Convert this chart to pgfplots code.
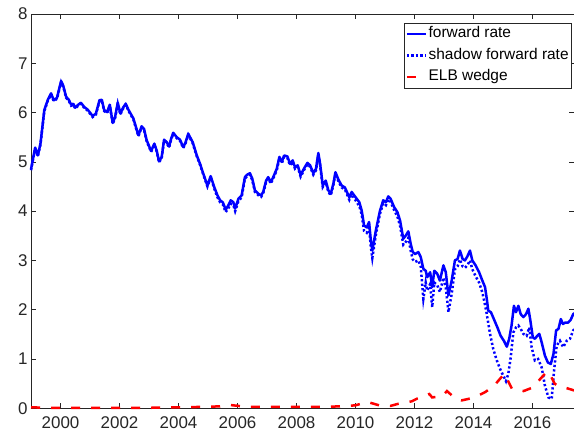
\documentclass[border=0pt]{standalone}
\usepackage{fontspec}
\setmainfont{Liberation Sans}
\usepackage{pgfplots}
\usepackage{pgfplotstable}
\pgfplotsset{compat=1.18}
\definecolor{axgray}{RGB}{38,38,38}
\definecolor{mblue}{RGB}{0,0,255}
\definecolor{mred}{RGB}{255,0,0}

\pgfplotstableread{
x y
1999.00 4.85
1999.14 5.29
1999.23 5.13
1999.32 5.37
1999.45 6.05
1999.57 6.26
1999.68 6.39
1999.77 6.25
1999.88 6.30
2000.02 6.64
2000.09 6.55
2000.19 6.32
2000.28 6.26
2000.36 6.16
2000.43 6.18
2000.50 6.10
2000.58 6.15
2000.69 6.20
2000.81 6.11
2000.92 6.06
2001.09 5.93
2001.20 5.98
2001.32 6.25
2001.40 6.26
2001.48 6.05
2001.58 6.01
2001.67 6.16
2001.77 5.79
2001.85 5.91
2001.94 6.20
2002.03 5.98
2002.12 6.10
2002.21 6.18
2002.30 6.06
2002.47 5.88
2002.64 5.54
2002.75 5.72
2002.83 5.67
2002.92 5.44
2003.07 5.22
2003.18 5.37
2003.26 5.23
2003.34 5.01
2003.43 5.10
2003.51 5.45
2003.60 5.40
2003.68 5.31
2003.75 5.47
2003.82 5.59
2003.94 5.50
2004.05 5.45
2004.16 5.30
2004.23 5.38
2004.33 5.57
2004.48 5.40
2004.62 5.13
2004.73 4.96
2004.84 4.76
2004.98 4.52
2005.09 4.71
2005.21 4.49
2005.32 4.32
2005.41 4.22
2005.50 4.18
2005.60 4.03
2005.69 4.12
2005.77 4.22
2005.86 4.18
2005.92 4.05
2006.03 4.25
2006.14 4.32
2006.25 4.69
2006.33 4.74
2006.42 4.77
2006.50 4.66
2006.59 4.42
2006.71 4.35
2006.80 4.32
2006.87 4.39
2006.97 4.62
2007.04 4.69
2007.13 4.59
2007.21 4.69
2007.33 4.86
2007.42 5.10
2007.50 5.00
2007.58 5.13
2007.69 5.11
2007.78 4.96
2007.87 5.03
2007.95 4.89
2008.04 4.93
2008.14 4.73
2008.25 4.86
2008.37 4.98
2008.46 4.93
2008.57 4.77
2008.66 4.86
2008.74 5.18
2008.80 4.96
2008.89 4.52
2008.99 4.62
2009.08 4.42
2009.16 4.35
2009.25 4.56
2009.32 4.79
2009.42 4.64
2009.53 4.52
2009.64 4.48
2009.79 4.28
2009.87 4.39
2009.98 4.30
2010.13 4.18
2010.21 4.01
2010.29 3.71
2010.38 3.67
2010.46 3.78
2010.52 3.40
2010.57 3.20
2010.69 3.61
2010.83 4.01
2010.94 4.22
2011.03 4.18
2011.11 4.30
2011.19 4.25
2011.31 4.08
2011.42 3.98
2011.51 3.81
2011.62 3.44
2011.71 3.51
2011.79 3.59
2011.87 3.34
2011.94 3.17
2012.02 3.13
2012.13 3.17
2012.21 3.07
2012.30 2.83
2012.38 2.79
2012.43 2.66
2012.53 2.76
2012.60 2.46
2012.67 2.79
2012.77 2.73
2012.86 2.59
2012.98 2.90
2013.06 2.76
2013.15 2.29
2013.26 2.59
2013.37 3.00
2013.46 3.03
2013.54 3.20
2013.63 3.03
2013.71 3.00
2013.79 3.08
2013.88 3.20
2013.96 3.00
2014.07 2.90
2014.19 2.76
2014.30 2.59
2014.39 2.46
2014.45 2.22
2014.50 1.98
2014.59 1.95
2014.69 1.81
2014.81 1.64
2014.92 1.47
2015.03 1.37
2015.13 1.25
2015.21 1.41
2015.29 1.68
2015.37 2.08
2015.44 1.95
2015.52 2.08
2015.60 1.91
2015.69 1.85
2015.78 1.91
2015.86 2.02
2015.92 1.81
2016.01 1.44
2016.08 1.41
2016.16 1.47
2016.23 1.51
2016.31 1.34
2016.42 1.07
2016.52 0.93
2016.62 0.90
2016.71 1.10
2016.80 1.58
2016.88 1.61
2016.96 1.81
2017.03 1.71
2017.11 1.74
2017.21 1.74
2017.29 1.79
2017.38 1.91
2017.42 1.93
}\forwardtbl

\pgfplotstableread{
x y
1999.00 4.83
1999.14 5.27
1999.23 5.11
1999.32 5.35
1999.45 6.03
1999.57 6.24
1999.68 6.37
1999.77 6.23
1999.88 6.28
2000.02 6.62
2000.09 6.53
2000.19 6.30
2000.28 6.24
2000.36 6.14
2000.43 6.16
2000.50 6.08
2000.58 6.13
2000.69 6.18
2000.81 6.09
2000.92 6.04
2001.09 5.91
2001.20 5.96
2001.32 6.23
2001.40 6.24
2001.48 6.03
2001.58 5.99
2001.67 6.14
2001.77 5.77
2001.85 5.89
2001.94 6.18
2002.03 5.96
2002.12 6.08
2002.21 6.16
2002.30 6.04
2002.47 5.86
2002.64 5.52
2002.75 5.70
2002.83 5.65
2002.92 5.42
2003.07 5.20
2003.18 5.35
2003.26 5.21
2003.34 4.99
2003.43 5.08
2003.51 5.43
2003.60 5.38
2003.68 5.29
2003.75 5.45
2003.82 5.57
2003.94 5.48
2004.05 5.43
2004.16 5.28
2004.23 5.36
2004.33 5.55
2004.48 5.38
2004.62 5.11
2004.73 4.94
2004.84 4.74
2004.98 4.50
2005.09 4.68
2005.21 4.46
2005.32 4.28
2005.41 4.18
2005.50 4.14
2005.60 3.98
2005.69 4.06
2005.77 4.15
2005.86 4.12
2005.92 4.00
2006.03 4.20
2006.14 4.28
2006.25 4.66
2006.33 4.71
2006.42 4.74
2006.50 4.63
2006.59 4.39
2006.71 4.32
2006.80 4.29
2006.87 4.36
2006.97 4.59
2007.04 4.66
2007.13 4.56
2007.21 4.66
2007.33 4.83
2007.42 5.07
2007.50 4.97
2007.58 5.10
2007.69 5.08
2007.78 4.93
2007.87 5.00
2007.95 4.86
2008.04 4.90
2008.14 4.70
2008.25 4.83
2008.37 4.95
2008.46 4.90
2008.57 4.74
2008.66 4.83
2008.74 5.15
2008.80 4.93
2008.89 4.49
2008.99 4.59
2009.08 4.39
2009.16 4.32
2009.25 4.53
2009.32 4.76
2009.42 4.61
2009.53 4.48
2009.64 4.44
2009.79 4.23
2009.87 4.34
2009.98 4.24
2010.13 4.10
2010.21 3.93
2010.29 3.60
2010.38 3.56
2010.46 3.66
2010.52 3.27
2010.57 3.05
2010.69 3.52
2010.83 3.95
2010.94 4.16
2011.03 4.12
2011.11 4.24
2011.19 4.19
2011.31 4.02
2011.42 3.89
2011.51 3.70
2011.62 3.32
2011.71 3.38
2011.79 3.46
2011.87 3.20
2011.94 3.02
2012.02 2.97
2012.13 3.00
2012.21 2.88
2012.30 2.22
2012.38 2.55
2012.43 2.39
2012.53 2.52
2012.60 2.05
2012.67 2.55
2012.77 2.50
2012.86 2.36
2012.98 2.65
2013.06 2.45
2013.15 1.95
2013.26 2.32
2013.37 2.82
2013.46 2.88
2013.54 3.02
2013.63 2.88
2013.71 2.85
2013.79 2.90
2013.88 3.00
2013.96 2.82
2014.07 2.68
2014.19 2.55
2014.30 2.35
2014.39 2.10
2014.45 1.91
2014.56 1.51
2014.67 1.20
2014.79 0.97
2014.90 0.80
2015.01 0.66
2015.10 0.55
2015.18 0.70
2015.26 1.03
2015.35 1.54
2015.44 1.64
2015.52 1.68
2015.60 1.61
2015.69 1.51
2015.80 1.47
2015.89 1.64
2015.97 1.24
2016.08 0.97
2016.19 1.00
2016.31 0.83
2016.42 0.46
2016.54 0.22
2016.65 0.19
2016.73 0.76
2016.82 1.27
2016.93 1.37
2017.04 1.24
2017.16 1.37
2017.27 1.41
2017.38 1.58
2017.42 1.60
}\shadowtbl

\pgfplotstableread{
x y
1999.00 0.02
1999.50 0.01
2000.00 0.01
2001.00 0.01
2002.00 0.01
2003.00 0.01
2004.00 0.02
2005.00 0.03
2005.40 0.04
2005.70 0.07
2006.00 0.05
2006.30 0.03
2007.00 0.03
2008.00 0.03
2009.00 0.03
2009.50 0.04
2010.00 0.06
2010.40 0.13
2010.80 0.06
2011.20 0.05
2011.50 0.10
2011.90 0.14
2012.10 0.20
2012.50 0.29
2012.60 0.22
2012.95 0.25
2013.10 0.35
2013.40 0.19
2013.60 0.16
2013.90 0.20
2014.20 0.27
2014.40 0.33
2014.70 0.46
2014.90 0.60
2015.05 0.70
2015.15 0.58
2015.30 0.40
2015.50 0.36
2015.70 0.35
2016.00 0.42
2016.30 0.62
2016.50 0.75
2016.60 0.68
2016.75 0.50
2016.90 0.44
2017.10 0.42
2017.42 0.36
}\wedgetbl

\begin{document}
\begin{tikzpicture}
\useasboundingbox (-31bp,-30bp) rectangle (542.6bp,408bp);
\begin{axis}[
  at={(0,0)}, anchor=south west,
  scale only axis, width=543bp, height=394bp,
  xmin=1999, xmax=2017.42, ymin=0, ymax=8,
  xtick={2000,2002,...,2016}, ytick={0,1,...,8},
  clip=false,
  /pgf/number format/assume math mode=true,
  /pgf/number format/set thousands separator={},
  tick align=inside, major tick length=5bp,
  tick style={axgray, line width=0.5bp},
  axis line style={axgray, line width=0.6bp},
  tick label style={font=\fontsize{17}{17}\selectfont, text=axgray},
  xticklabel style={yshift=-5bp},
  legend image code/.code={\draw[#1] (0bp,0bp) -- (19bp,0bp);},
  legend cell align=left,
  legend style={at={(rel axis cs:0.9945,0.978)}, anchor=north east,
    draw=axgray, line width=0.5bp, font=\fontsize{15.5}{15.5}\selectfont,
    inner xsep=1bp, inner ysep=2.5bp, row sep=4.5bp,
    nodes={inner sep=1.5bp, text height=11bp, text depth=3bp}},
]
\addplot[mblue, line width=2.5bp, line join=round] table {\forwardtbl};
\addlegendentry{forward rate}
\addplot[mblue, line width=2.5bp, dash pattern=on 2.2bp off 2.3bp] table {\shadowtbl};
\addlegendentry{shadow forward rate}
\addplot[mred, line width=2.5bp, dash pattern=on 9bp off 11bp] table {\wedgetbl};
\addlegendentry{ELB wedge}
\end{axis}
\end{tikzpicture}
\end{document}
